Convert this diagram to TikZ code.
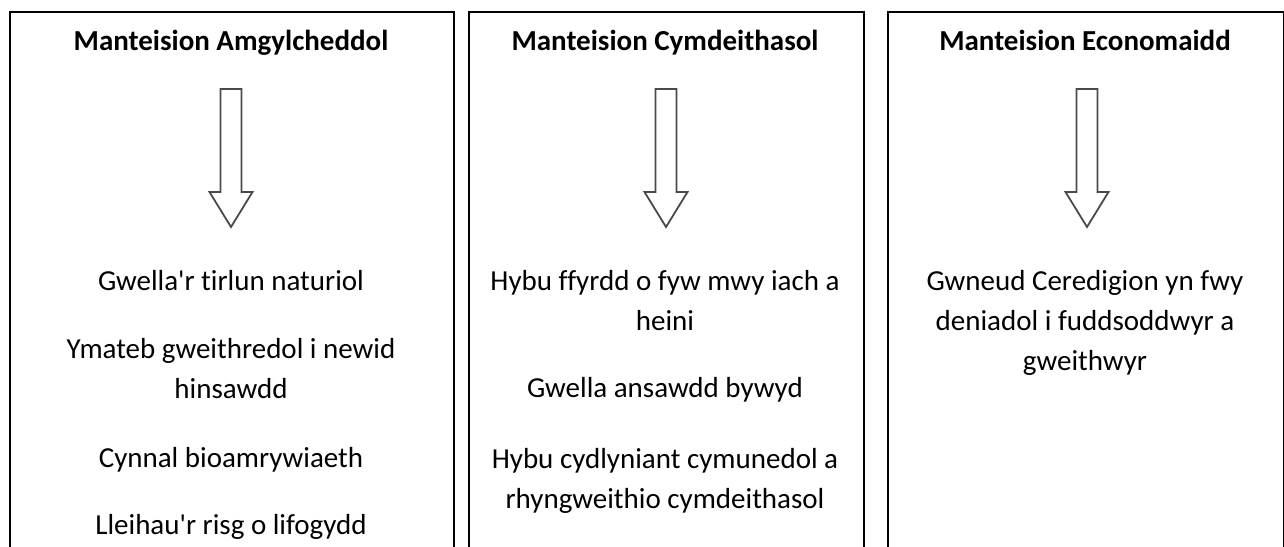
\documentclass[tikz,border=0pt]{standalone}
\usepackage{fontspec}
\setmainfont{Carlito}[Ligatures={NoCommon}]
\definecolor{arrowgray}{HTML}{4A4A4A}
\tikzset{
  downarrow/.pic={
    \draw[hollow] (-10.5,89) -- (10.5,89) -- (10.5,192) -- (21.5,192) -- (0,227)
      -- (-21.5,192) -- (-10.5,192) -- cycle;
  }
}
\begin{document}
\begin{tikzpicture}[x=1pt,y=-1pt,
  panel/.style={draw=black,line width=1.6pt,minimum height=620pt,anchor=north west,inner sep=0pt},
  head/.style={font=\bfseries\fontsize{29}{35}\selectfont,anchor=base},
  body/.style={font=\fontsize{29}{40}\selectfont,anchor=base,align=center},
  hollow/.style={draw=arrowgray,line width=1.8pt,line join=miter,fill=white}]
\useasboundingbox (0,0) rectangle (1284,546);
\clip (0,0) rectangle (1284,546);
% panels
\node[panel,minimum width=444pt] (p1) at (9,11) {};
\node[panel,minimum width=395pt] (p2) at (468,11) {};
\node[panel,minimum width=396pt] (p3) at (887,11) {};
% titles
\node[head] (t1) at (231,50) {Manteision Amgylcheddol};
\node[head] (t2) at (665,50) {Manteision Cymdeithasol};
\node[head] (t3) at (1085,50) {Manteision Economaidd};
% arrows
\pic at (231,0) {downarrow};
\pic at (666,0) {downarrow};
\pic at (1087,0) {downarrow};
% panel 1 text (anchor = baseline of last line)
\node[body] (a1) at (231,290) {Gwella\textquotesingle r tirlun naturiol};
\node[body] (a2) at (231,398) {Ymateb gweithredol i newid\\hinsawdd};
\node[body] (a3) at (231,467) {Cynnal bioamrywiaeth};
\node[body] (a4) at (231,534) {Lleihau\textquotesingle r risg o lifogydd};
% panel 2 text
\node[body] (b1) at (665,330) {Hybu ffyrdd o fyw mwy iach a\\heini};
\node[body] (b2) at (665,397) {Gwella ansawdd bywyd};
\node[body] (b3) at (665,508) {Hybu cydlyniant cymunedol a\\rhyngweithio cymdeithasol};
% panel 3 text
\node[body] (c1) at (1085,370) {Gwneud Ceredigion yn fwy\\deniadol i fuddsoddwyr a\\gweithwyr};
\end{tikzpicture}
\end{document}
